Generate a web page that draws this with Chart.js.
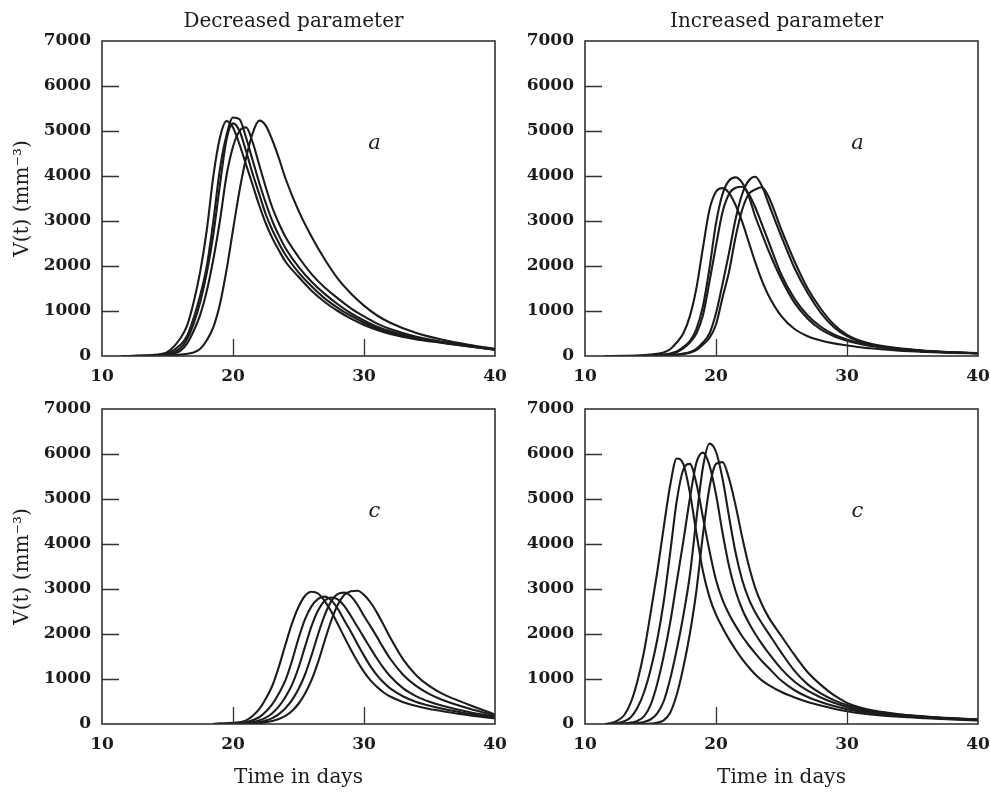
<!DOCTYPE html>
<html>
<head>
<meta charset="utf-8">
<script src="https://cdn.jsdelivr.net/npm/chart.js@4.4.1/dist/chart.umd.min.js"></script>
<style>
  body { margin: 0; background: #fff; }
  #wrap { position: relative; width: 990px; height: 792px; background: #fff; }
  canvas { position: absolute; }
</style>
</head>
<body>
<div id="wrap">
  <canvas id="tl" width="520" height="400" style="left:0;top:0"></canvas>
  <canvas id="tr" width="495" height="400" style="left:495px;top:0"></canvas>
  <canvas id="bl" width="520" height="397" style="left:0;top:395px"></canvas>
  <canvas id="br" width="495" height="397" style="left:495px;top:395px"></canvas>
</div>
<script>
// Time axis (days) and the V(t) values
const xTicks = [10, 20, 30, 40];
const yTicks = [0, 1000, 2000, 3000, 4000, 5000, 6000, 7000];
const innerXTicks = [20, 30];
const innerYTicks = [1000, 2000, 3000, 4000, 5000, 6000];

const topDays = [11.5, 13, 14, 15, 16, 16.5, 17, 17.5, 18, 18.5, 19, 19.5, 20, 20.5, 21, 21.5, 22, 22.5, 23, 23.5, 24, 25, 26, 27, 28, 29, 30, 31, 32, 34, 36, 38, 40];

// panel a, decreased parameter
const aDec1 = [0, 5, 25, 90, 400, 680, 1200, 1880, 2800, 4000, 4850, 5220, 5080, 4700, 4250, 3800, 3350, 2950, 2620, 2350, 2100, 1760, 1450, 1200, 1000, 830, 690, 580, 490, 370, 290, 210, 140];
const aDec2 = [0, 3, 15, 60, 250, 450, 850, 1350, 2000, 3000, 4150, 4900, 5300, 5260, 4850, 4350, 3850, 3400, 3000, 2680, 2400, 1980, 1650, 1380, 1150, 950, 790, 650, 550, 405, 305, 222, 145];
const aDec3 = [0, 2, 10, 45, 180, 380, 720, 1200, 1850, 2700, 3800, 4800, 5170, 5000, 4550, 4050, 3600, 3150, 2800, 2510, 2250, 1860, 1550, 1280, 1070, 890, 740, 610, 515, 385, 298, 216, 140];
const aDec4 = [0, 2, 8, 35, 120, 280, 560, 920, 1450, 2150, 3000, 4000, 4650, 5000, 5080, 4750, 4250, 3750, 3300, 2950, 2650, 2200, 1820, 1520, 1280, 1060, 880, 720, 600, 430, 315, 226, 150];
const aDec5 = [0, 0, 2, 10, 30, 50, 80, 160, 350, 640, 1150, 1900, 2800, 3680, 4400, 4950, 5230, 5120, 4800, 4400, 3950, 3230, 2650, 2150, 1720, 1390, 1120, 900, 740, 510, 360, 250, 160];

// panel a, increased parameter
const aInc1 = [0, 2, 8, 30, 80, 150, 300, 500, 880, 1500, 2400, 3250, 3650, 3730, 3620, 3350, 2980, 2530, 2080, 1680, 1350, 880, 600, 440, 345, 280, 235, 195, 165, 118, 90, 70, 55];
const aInc2 = [0, 0, 2, 8, 30, 55, 100, 200, 330, 600, 1100, 1950, 2950, 3600, 3900, 3970, 3850, 3550, 3100, 2720, 2350, 1700, 1180, 830, 590, 440, 340, 270, 215, 148, 105, 78, 60];
const aInc3 = [0, 0, 1, 6, 22, 45, 85, 170, 300, 500, 900, 1650, 2450, 3200, 3600, 3740, 3760, 3600, 3300, 2930, 2550, 1800, 1270, 900, 650, 480, 365, 285, 225, 152, 108, 80, 60];
const aInc4 = [0, 0, 0, 2, 8, 15, 30, 55, 85, 160, 300, 500, 950, 1600, 2300, 3050, 3600, 3900, 3985, 3780, 3400, 2650, 1950, 1400, 960, 640, 440, 320, 245, 160, 112, 82, 61];
const aInc5 = [0, 0, 0, 1, 6, 12, 25, 45, 75, 130, 250, 400, 700, 1300, 1880, 2650, 3250, 3600, 3700, 3750, 3550, 2800, 2100, 1500, 1050, 700, 470, 340, 260, 170, 118, 85, 63];

// panel c, decreased parameter
const cDecDays = [18.5, 19, 20, 21, 22, 22.5, 23, 23.5, 24, 24.5, 25, 25.5, 26, 26.5, 27, 27.5, 28, 28.5, 29, 29.5, 30, 30.5, 31, 31.5, 32, 33, 34, 35, 36, 38, 40];
const cDec1 = [3, 8, 25, 80, 330, 560, 850, 1270, 1760, 2230, 2600, 2850, 2940, 2900, 2730, 2500, 2220, 1930, 1650, 1390, 1160, 970, 820, 700, 610, 485, 400, 335, 285, 195, 125];
const cDec2 = [1, 3, 12, 40, 150, 270, 440, 680, 970, 1400, 1900, 2330, 2620, 2780, 2830, 2750, 2560, 2300, 2050, 1780, 1520, 1280, 1080, 920, 790, 610, 490, 405, 340, 228, 140];
const cDec3 = [1, 2, 7, 22, 80, 140, 240, 390, 600, 870, 1250, 1720, 2180, 2530, 2740, 2810, 2770, 2620, 2400, 2160, 1920, 1680, 1450, 1240, 1060, 790, 615, 495, 405, 265, 160];
const cDec4 = [0, 1, 4, 12, 40, 75, 130, 220, 350, 530, 780, 1100, 1530, 2000, 2420, 2730, 2890, 2920, 2840, 2650, 2400, 2170, 1930, 1680, 1450, 1090, 840, 665, 535, 345, 190];
const cDec5 = [0, 0, 2, 6, 20, 38, 65, 110, 180, 290, 450, 680, 980, 1380, 1850, 2300, 2650, 2870, 2950, 2960, 2870, 2700, 2470, 2200, 1920, 1430, 1080, 840, 670, 430, 210];

// panel c, increased parameter
const cIncDays = [11.5, 12, 12.5, 13, 13.5, 14, 14.5, 15, 15.5, 16, 16.5, 17, 17.5, 18, 18.5, 19, 19.5, 20, 20.5, 21, 21.5, 22, 22.5, 23, 23.5, 24, 25, 26, 27, 28, 29, 30, 31, 32, 34, 36, 38, 40];
const cInc1 = [0, 20, 80, 200, 480, 950, 1600, 2450, 3350, 4350, 5300, 5900, 5780, 5150, 4250, 3400, 2820, 2430, 2140, 1880, 1650, 1440, 1260, 1100, 970, 870, 710, 590, 490, 410, 340, 285, 240, 208, 160, 128, 100, 78];
const cInc2 = [0, 3, 20, 60, 150, 360, 700, 1200, 1850, 2700, 3800, 4950, 5650, 5780, 5350, 4600, 3850, 3200, 2760, 2440, 2180, 1950, 1750, 1570, 1400, 1250, 960, 750, 600, 490, 400, 330, 275, 235, 178, 140, 110, 86];
const cInc3 = [0, 0, 3, 10, 30, 70, 170, 420, 880, 1500, 2250, 3150, 4050, 5000, 5800, 6030, 5750, 5100, 4250, 3500, 2950, 2550, 2250, 2000, 1780, 1580, 1220, 940, 740, 590, 470, 380, 310, 260, 192, 150, 117, 92];
const cInc4 = [0, 0, 0, 2, 8, 20, 45, 100, 230, 500, 1000, 1650, 2400, 3300, 4550, 5700, 6230, 6050, 5450, 4600, 3800, 3200, 2780, 2480, 2240, 2020, 1580, 1180, 880, 680, 530, 420, 340, 285, 210, 160, 124, 96];
const cInc5 = [0, 0, 0, 0, 0, 0, 3, 10, 30, 80, 250, 650, 1250, 2000, 2950, 4200, 5250, 5780, 5820, 5450, 4850, 4150, 3520, 3020, 2660, 2380, 1950, 1530, 1150, 870, 640, 470, 365, 300, 218, 167, 130, 102];

const serif = "'DejaVu Serif', 'Liberation Serif', serif";
const ink = '#1c1c1c';

// box, inward tick marks, panel heading and curve-set letter
const framePlugin = {
    id: 'frame',
    afterDatasetsDraw(chart, args, opts) {
        const { ctx, chartArea: a, scales: { x, y } } = chart;
        ctx.save();
        ctx.strokeStyle = '#333';
        ctx.lineWidth = 1.6;
        ctx.strokeRect(a.left, a.top, a.right - a.left, a.bottom - a.top);
        ctx.lineWidth = 1.3;
        ctx.beginPath();
        innerYTicks.forEach((v) => {
            const py = Math.round(y.getPixelForValue(v)) + 0.5;
            ctx.moveTo(a.left, py);
            ctx.lineTo(a.left + 17, py);
        });
        innerXTicks.forEach((v) => {
            const px = Math.round(x.getPixelForValue(v)) + 0.5;
            ctx.moveTo(px, a.bottom);
            ctx.lineTo(px, a.bottom - 17);
        });
        ctx.stroke();
        ctx.fillStyle = ink;
        ctx.textAlign = 'center';
        ctx.textBaseline = 'middle';
        ctx.font = 'italic 21px ' + serif;
        ctx.fillText(opts.letter, x.getPixelForValue(30.8), y.getPixelForValue(4730));
        if (opts.heading) {
            ctx.font = '20px ' + serif;
            ctx.fillText(opts.heading, (a.left + a.right) / 2 - 5, 22);
        }
        ctx.restore();
    }
};

const toPoints = (days, values) => values.map((v, i) => ({ x: days[i], y: v }));

function makePanel(id, days, curves, cfg) {
    const datasets = curves.map((c) => ({
        data: toPoints(days, c),
        borderColor: ink,
        borderWidth: 2.1,
        pointRadius: 0,
        fill: false,
        cubicInterpolationMode: 'monotone'
    }));
    return new Chart(document.getElementById(id), {
        type: 'line',
        data: { datasets: datasets },
        plugins: [framePlugin],
        options: {
            responsive: false,
            animation: false,
            events: [],
            layout: { padding: cfg.padding },
            plugins: {
                legend: { display: false },
                tooltip: { enabled: false },
                frame: { letter: cfg.letter, heading: cfg.heading }
            },
            scales: {
                x: {
                    type: 'linear',
                    min: 10,
                    max: 40,
                    afterBuildTicks: (s) => { s.ticks = xTicks.map((v) => ({ value: v })); },
                    grid: { display: false, drawTicks: false },
                    border: { display: false },
                    ticks: {
                        color: ink, padding: 10, maxRotation: 0,
                        font: { family: serif, size: 17, weight: 'bold' },
                        callback: (v) => String(v)
                    },
                    title: {
                        display: cfg.xTitle,
                        text: 'Time in days',
                        color: ink,
                        padding: { top: 0, bottom: 2 },
                        font: { family: serif, size: 20 }
                    },
                    afterFit: (s) => { s.height = cfg.xHeight; s.paddingLeft = 0; s.paddingRight = 0; }
                },
                y: {
                    min: 0,
                    max: 7000,
                    afterBuildTicks: (s) => { s.ticks = yTicks.map((v) => ({ value: v })); },
                    grid: { display: false, drawTicks: false },
                    border: { display: false },
                    ticks: {
                        color: ink, padding: 11,
                        font: { family: serif, size: 17, weight: 'bold' },
                        callback: (v) => String(v)
                    },
                    title: {
                        display: cfg.yTitle,
                        text: 'V(t) (mm\u207B\u00B3)',
                        color: ink,
                        padding: { top: 11, bottom: 0 },
                        font: { family: serif, size: 20 }
                    },
                    afterFit: (s) => { s.width = cfg.yWidth; s.paddingTop = 0; s.paddingBottom = 0; }
                }
            }
        }
    });
}

makePanel('tl', topDays, [aDec1, aDec2, aDec3, aDec4, aDec5], {
    padding: { left: 0, top: 41, right: 25, bottom: 0 },
    yWidth: 102, xHeight: 44, letter: 'a', heading: 'Decreased parameter', xTitle: false, yTitle: true
});
makePanel('tr', topDays, [aInc1, aInc2, aInc3, aInc4, aInc5], {
    padding: { left: 0, top: 41, right: 12, bottom: 0 },
    yWidth: 90, xHeight: 44, letter: 'a', heading: 'Increased parameter', xTitle: false, yTitle: false
});
makePanel('bl', cDecDays, [cDec1, cDec2, cDec3, cDec4, cDec5], {
    padding: { left: 0, top: 14, right: 25, bottom: 0 },
    yWidth: 102, xHeight: 68, letter: 'c', heading: null, xTitle: true, yTitle: true
});
makePanel('br', cIncDays, [cInc1, cInc2, cInc3, cInc4, cInc5], {
    padding: { left: 0, top: 14, right: 12, bottom: 0 },
    yWidth: 90, xHeight: 68, letter: 'c', heading: null, xTitle: true, yTitle: false
});
</script>
</body>
</html>
